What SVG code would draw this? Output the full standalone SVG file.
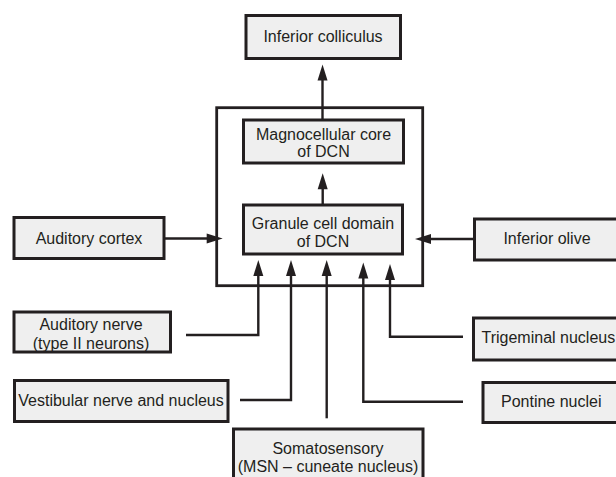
<svg xmlns="http://www.w3.org/2000/svg" width="616" height="477" viewBox="0 0 616 477">
<style>
.box{fill:#efefef;stroke:#231f20;stroke-width:3}
.outer{fill:none;stroke:#231f20;stroke-width:2.8}
.t{font-family:"Liberation Sans",Arial,sans-serif;font-size:16px;fill:#231f20;text-anchor:middle}
.ts{text-anchor:start}
.c{fill:none;stroke:#231f20;stroke-width:2.4}
.a{marker-end:url(#ah)}
</style>
<defs>
<marker id="ah" markerUnits="userSpaceOnUse" markerWidth="16" markerHeight="10" refX="8" refY="5" orient="auto" overflow="visible">
<path d="M0,0 L16,5 L0,10 z" fill="#231f20"/>
</marker>
</defs>
<rect width="616" height="477" fill="#ffffff"/>
<g id="dcn">
<rect class="outer" x="216.7" y="107.7" width="206" height="178"/>
</g>
<g id="connectors">
<path class="c a" d="M322.5,120 V72.5"/>
<path class="c a" d="M322.7,205 V181.3"/>
<path class="c a" d="M165,238.5 H214.7"/>
<path class="c a" d="M473,239 H423"/>
<path class="c a" d="M186,335 H258.3 V268"/>
<path class="c a" d="M240,400 H291 V268"/>
<path class="c a" d="M326.7,418.3 V268"/>
<path class="c a" d="M463,401.7 H363.3 V270.5"/>
<path class="c a" d="M463,336.7 H390 V272"/>
</g>
<g id="inferior-colliculus">
<rect class="box" x="246" y="15.5" width="154.5" height="43"/>
<text class="t" x="323" y="42">Inferior colliculus</text>
</g>
<g id="magnocellular">
<rect class="box" x="243.5" y="120" width="160" height="43"/>
<text class="t" x="323.5" y="140">Magnocellular core</text>
<text class="t" x="323.5" y="157">of DCN</text>
</g>
<g id="granule">
<rect class="box" x="243.5" y="205" width="159" height="49"/>
<text class="t" x="323" y="229">Granule cell domain</text>
<text class="t" x="323" y="247">of DCN</text>
</g>
<g id="auditory-cortex">
<rect class="box" x="14" y="217.5" width="150" height="41"/>
<text class="t" x="89" y="243.5">Auditory cortex</text>
</g>
<g id="inferior-olive">
<rect class="box" x="474.5" y="219" width="150" height="41"/>
<text class="t" x="547" y="244">Inferior olive</text>
</g>
<g id="auditory-nerve">
<rect class="box" x="14" y="312" width="156.5" height="40"/>
<text class="t" x="91" y="330">Auditory nerve</text>
<text class="t" x="91" y="349">(type II neurons)</text>
</g>
<g id="vestibular">
<rect class="box" x="14.5" y="380.5" width="213.5" height="41"/>
<text class="t" x="121" y="405.5">Vestibular nerve and nucleus</text>
</g>
<g id="trigeminal">
<rect class="box" x="473.5" y="318" width="160" height="42"/>
<text class="t ts" x="481.5" y="343">Trigeminal nucleus</text>
</g>
<g id="pontine">
<rect class="box" x="483" y="382.5" width="150" height="40"/>
<text class="t ts" x="501" y="407">Pontine nuclei</text>
</g>
<g id="somatosensory">
<rect class="box" x="233.5" y="429" width="189.5" height="60"/>
<text class="t" x="328" y="453.5">Somatosensory</text>
<text class="t" x="328" y="472">(MSN – cuneate nucleus)</text>
</g>
</svg>
